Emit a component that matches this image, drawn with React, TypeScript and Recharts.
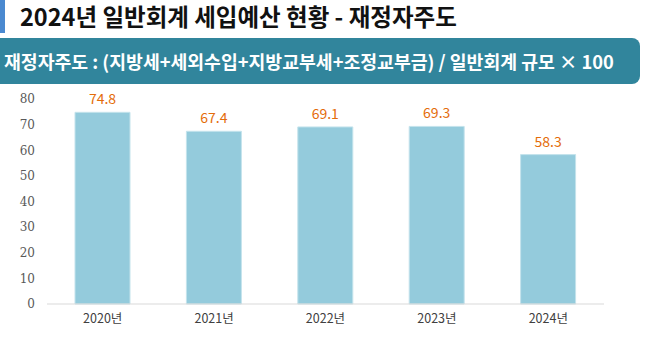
import { BarChart, Bar, XAxis, YAxis, LabelList } from 'recharts';

const years = ['2020년', '2021년', '2022년', '2023년', '2024년'];
const ratios = [74.8, 67.4, 69.1, 69.3, 58.3];
const yTicks = [0, 10, 20, 30, 40, 50, 60, 70, 80];

const data = years.map((year, i) => ({ year, ratio: ratios[i] }));

const kr = '"Noto Sans CJK KR", "Noto Sans", sans-serif';

export default function App() {
  return (
    <div style={{ position: 'absolute', left: 0, top: 0, width: 650, height: 357, background: '#fff', overflow: 'hidden' }}>
      <div style={{ position: 'absolute', left: 0, top: 0, width: 5, height: 33, background: '#4a89d0' }} />
      <div
        style={{
          position: 'absolute', left: 20, top: 0, fontFamily: kr, fontWeight: 700,
          fontSize: 23.5, color: '#111', whiteSpace: 'nowrap', lineHeight: '32px'
        }}
      >
        2024년 일반회계 세입예산 현황 - 재정자주도
      </div>
      <div
        style={{
          position: 'absolute', left: 0, top: 38, width: 640, height: 46, background: '#31859c',
          borderRadius: '0 8px 8px 0', color: '#fff', fontFamily: kr, fontWeight: 700, fontSize: 18.3,
          lineHeight: '46px', paddingLeft: 4, whiteSpace: 'nowrap', boxSizing: 'border-box'
        }}
      >
        재정자주도 : (지방세+세외수입+지방교부세+조정교부금) / 일반회계 규모 × 100
      </div>
      <div style={{ position: 'absolute', left: 0, top: 0 }}>
        <BarChart width={650} height={357} data={data} margin={{ top: 99, right: 46, bottom: 23, left: 7 }}>
          <YAxis
            domain={[0, 80]}
            ticks={yTicks}
            width={40}
            axisLine={false}
            tickLine={false}
            tickMargin={6}
            tick={{ fontFamily: '"DejaVu Serif", serif', fontSize: 12, fill: '#595959' }}
          />
          <XAxis
            dataKey="year"
            height={30}
            axisLine={{ stroke: '#d9d9d9' }}
            tickLine={false}
            tickMargin={4}
            tick={{ fontFamily: kr, fontSize: 12.5, fill: '#404040' }}
          />
          <Bar dataKey="ratio" fill="#94cbdc" stroke="#c4e3ec" strokeWidth={1} barSize={55} isAnimationActive={false}>
            <LabelList dataKey="ratio" position="top" offset={8} fill="#e46c0a" fontSize={14} fontFamily={kr} />
          </Bar>
        </BarChart>
      </div>
    </div>
  );
}
